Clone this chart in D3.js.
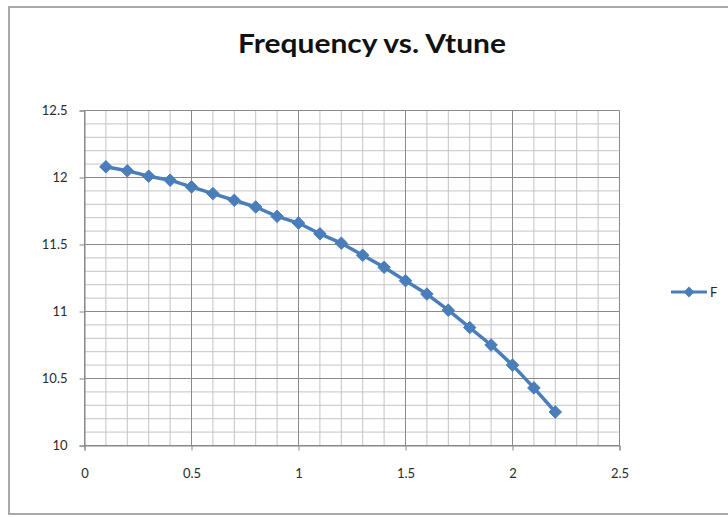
<!DOCTYPE html>
<html>
<head>
<meta charset="utf-8">
<script src="https://cdn.jsdelivr.net/npm/d3@7"></script>
<style>
  html, body { margin: 0; padding: 0; background: #ffffff; }
  svg { display: block; }
</style>
</head>
<body>
<svg id="chart" width="728" height="517"></svg>
<script>
// Tuning voltage (V) and measured frequency (GHz)
const vtune = [0.1, 0.2, 0.3, 0.4, 0.5, 0.6, 0.7, 0.8, 0.9, 1.0, 1.1,
               1.2, 1.3, 1.4, 1.5, 1.6, 1.7, 1.8, 1.9, 2.0, 2.1, 2.2];
const freq  = [12.08, 12.05, 12.01, 11.98, 11.93, 11.88, 11.83, 11.78, 11.71, 11.66, 11.58,
               11.51, 11.42, 11.33, 11.23, 11.13, 11.01, 10.88, 10.75, 10.60, 10.43, 10.25];
const xTicks = [0, 0.5, 1, 1.5, 2, 2.5];
const yTicks = [10, 10.5, 11, 11.5, 12, 12.5];
const seriesName = "F";
const chartTitle = "Frequency vs. Vtune";

const svg = d3.select("#chart");
const W = 728, H = 517;
const plot = { left: 84.5, right: 619.5, top: 110.5, bottom: 445.5 };
const blue = "#4A7EBB";
const font = "Lato, 'Open Sans', 'DejaVu Sans', sans-serif";

// Outer chart frame
svg.append("rect")
  .attr("x", 9).attr("y", 7)
  .attr("width", W + 10).attr("height", 507)
  .attr("fill", "#ffffff")
  .attr("stroke", "#a9a9a9").attr("stroke-width", 2);

const x = d3.scaleLinear().domain([0, 2.5]).range([plot.left, plot.right]);
const y = d3.scaleLinear().domain([10, 12.5]).range([plot.bottom, plot.top]);

// Minor gridlines every 0.1
const minorX = d3.range(0, 25).map(i => i / 10).filter(v => !xTicks.some(t => Math.abs(t - v) < 1e-9));
const minorY = d3.range(100, 125).map(i => i / 10).filter(v => !yTicks.some(t => Math.abs(t - v) < 1e-9));

const grid = svg.append("g");
grid.selectAll("line.mx").data(minorX).join("line")
  .attr("x1", d => x(d)).attr("x2", d => x(d))
  .attr("y1", plot.top).attr("y2", plot.bottom)
  .attr("stroke", "#c4c4c4").attr("stroke-width", 1);
grid.selectAll("line.my").data(minorY).join("line")
  .attr("x1", plot.left).attr("x2", plot.right)
  .attr("y1", d => y(d)).attr("y2", d => y(d))
  .attr("stroke", "#c4c4c4").attr("stroke-width", 1);
// Major gridlines
grid.selectAll("line.Mx").data(xTicks).join("line")
  .attr("x1", d => x(d)).attr("x2", d => x(d))
  .attr("y1", plot.top).attr("y2", plot.bottom)
  .attr("stroke", "#8a8a8a").attr("stroke-width", 1);
grid.selectAll("line.My").data(yTicks).join("line")
  .attr("x1", plot.left).attr("x2", plot.right)
  .attr("y1", d => y(d)).attr("y2", d => y(d))
  .attr("stroke", "#8a8a8a").attr("stroke-width", 1);

// Axes
const xAxis = d3.axisBottom(x).tickValues(xTicks).tickSize(5).tickPadding(18)
  .tickFormat(d3.format("~g"));
const yAxis = d3.axisLeft(y).tickValues(yTicks).tickSize(5).tickPadding(12)
  .tickFormat(d3.format("~g"));

const gx = svg.append("g").attr("transform", `translate(0,${plot.bottom})`).call(xAxis);
const gy = svg.append("g").attr("transform", `translate(${plot.left},0)`).call(yAxis);
[gx, gy].forEach(g => {
  g.select(".domain").attr("stroke", "#868686");
  g.selectAll(".tick line").attr("stroke", "#868686");
  g.selectAll(".tick text")
    .attr("fill", "#2b2b2b")
    .style("font-family", font)
    .style("font-size", "13px");
});

// Series line and diamond markers
const pts = vtune.map((v, i) => [v, freq[i]]);
svg.append("path")
  .datum(pts)
  .attr("fill", "none")
  .attr("stroke", blue)
  .attr("stroke-width", 3.5)
  .attr("stroke-linejoin", "round")
  .attr("d", d3.line().x(d => x(d[0])).y(d => y(d[1])));

const diamond = d3.symbol().type(d3.symbolDiamond2).size(100);
svg.selectAll("path.marker").data(pts).join("path")
  .attr("class", "marker")
  .attr("transform", d => `translate(${x(d[0])},${y(d[1])})`)
  .attr("d", diamond)
  .attr("fill", blue)
  .attr("stroke", blue).attr("stroke-width", 1);

// Legend
const lg = svg.append("g").attr("transform", "translate(671,292)");
lg.append("line").attr("x1", 0).attr("x2", 36).attr("y1", 0).attr("y2", 0)
  .attr("stroke", blue).attr("stroke-width", 3);
lg.append("path").attr("transform", "translate(18,0)")
  .attr("d", d3.symbol().type(d3.symbolDiamond2).size(75))
  .attr("fill", blue);
lg.append("text").attr("x", 39).attr("y", 4.5)
  .text(seriesName)
  .attr("fill", "#2b2b2b")
  .style("font-family", font).style("font-size", "13px");

// Title
svg.append("text")
  .attr("x", 372).attr("y", 53)
  .attr("text-anchor", "middle")
  .attr("fill", "#111111")
  .attr("textLength", 268)
  .attr("lengthAdjust", "spacingAndGlyphs")
  .style("font-family", font)
  .style("font-weight", "bold")
  .style("font-size", "27px")
  .text(chartTitle);
</script>
</body>
</html>
